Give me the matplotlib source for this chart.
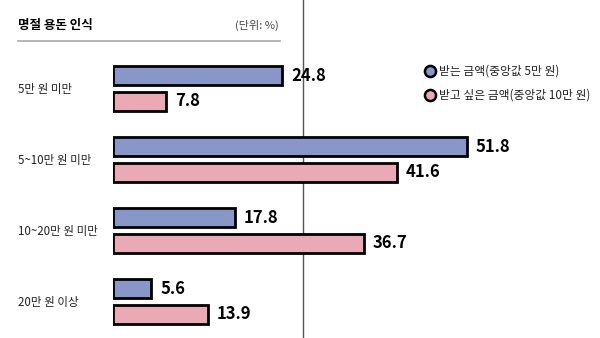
import matplotlib
matplotlib.use("Agg")
import matplotlib.pyplot as plt
from matplotlib.lines import Line2D

plt.rcParams['font.family'] = ['Noto Sans CJK KR', 'DejaVu Sans']

categories = ["5만 원 미만", "5~10만 원 미만", "10~20만 원 미만", "20만 원 이상"]
received = [24.8, 51.8, 17.8, 5.6]
wanted = [7.8, 41.6, 36.7, 13.9]
series_names = ["받는 금액(중앙값 5만 원)", "받고 싶은 금액(중앙값 10만 원)"]
title = "명절 용돈 인식"
unit = "(단위: %)"

c_blue = "#8896c8"
c_pink = "#e9a9b5"

W, H = 600, 338
fig = plt.figure(figsize=(W / 100, H / 100), dpi=100)

ax_left = 113 / W
ax = fig.add_axes([ax_left, 0, 1 - ax_left, 1])
ax.set_xlim(0, (W - 113) / 6.83)
px_per_unit = 71
ax.set_ylim((H - 88.5) / px_per_unit, -88.5 / px_per_unit)
ax.axis("off")

bh = 19 / px_per_unit
off = 12.8 / px_per_unit
for i, (r, w) in enumerate(zip(received, wanted)):
    ax.barh(i - off, r, height=bh, color=c_blue, edgecolor="black", linewidth=2.0)
    ax.barh(i + off, w, height=bh, color=c_pink, edgecolor="black", linewidth=2.0)
    ax.text(r + 1.3, i - off, f"{r:.1f}", va="center", ha="left",
            fontsize=12, fontweight="bold")
    ax.text(w + 1.3, i + off, f"{w:.1f}", va="center", ha="left",
            fontsize=12, fontweight="bold")
    fig.text(18 / W, 1 - (88.5 + i * px_per_unit + 1) / H, categories[i],
             fontsize=8.3, fontweight="medium", va="center", ha="left", color="#222222")

# vertical divider line (behind bars)
fig.add_artist(Line2D([303 / W, 303 / W], [0, 1], color="#555555", linewidth=1.0, zorder=-1))

# title & unit
fig.text(18 / W, 1 - 25 / H, title, fontsize=9, fontweight="bold", va="center", ha="left")
fig.text(279 / W, 1 - 25 / H, unit, fontsize=8, va="center", ha="right", color="#444444")
fig.add_artist(Line2D([18 / W, 280 / W], [1 - 41 / H, 1 - 41 / H], color="#aaaaaa", linewidth=1.2))

# legend
for j, (name, c) in enumerate(zip(series_names, [c_blue, c_pink])):
    yy = 1 - (71 + j * 24) / H
    fig.add_artist(Line2D([430 / W], [yy], marker="o", markersize=8,
                          markerfacecolor=c, markeredgecolor="black", markeredgewidth=1.8,
                          linestyle="none"))
    fig.text(439 / W, yy, name, fontsize=8.5, fontweight="medium", va="center", ha="left", color="#222222")

fig.savefig("out.png", dpi=100)
